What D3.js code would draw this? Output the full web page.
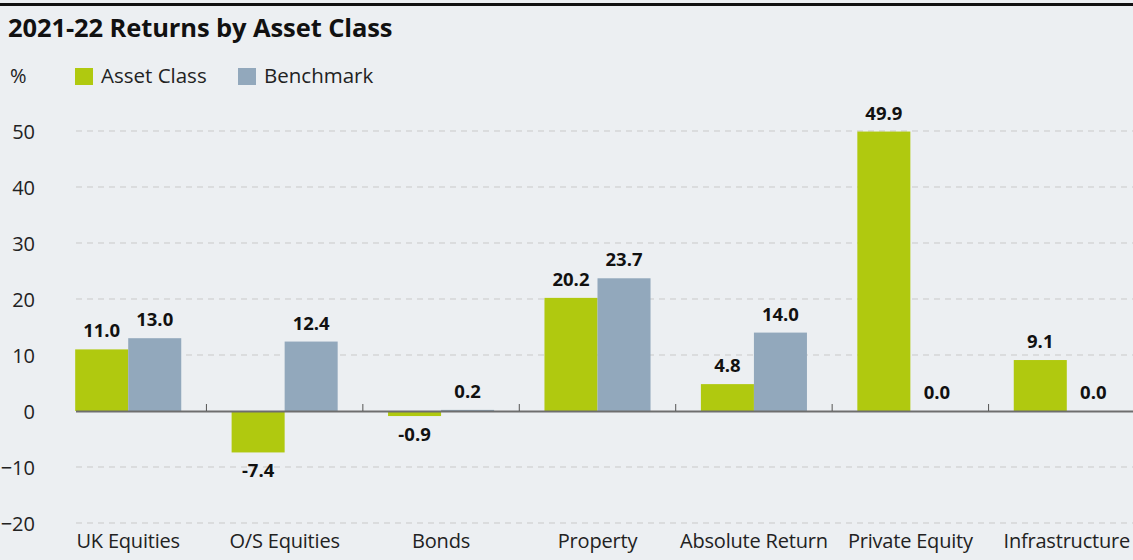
<!DOCTYPE html>
<html><head><meta charset="utf-8">
<script src="https://cdn.jsdelivr.net/npm/d3@7"></script>
<style>
html,body{margin:0;padding:0;background:#eceff2;}
svg{display:block;font-family:"Open Sans","Noto Sans",sans-serif;}
</style></head>
<body><svg id="c" width="1133" height="560"></svg>
<script>
const categories = ["UK Equities","O/S Equities","Bonds","Property","Absolute Return","Private Equity","Infrastructure"];
const assetClass = [11.0,-7.4,-0.9,20.2,4.8,49.9,9.1];
const benchmark = [13.0,12.4,0.2,23.7,14.0,0.0,0.0];
const seriesNames = ["Asset Class","Benchmark"];
const yTicks = [-20,-10,0,10,20,30,40,50];

const colors = ["#b0c90f","#92a8bc"];
const svg = d3.select("#c");
const W = 1133, H = 560;
svg.append("rect").attr("width",W).attr("height",H).attr("fill","#eceff2");
svg.append("rect").attr("x",0).attr("y",3).attr("width",W).attr("height",3).attr("fill","#111");

svg.append("text").attr("x",8).attr("y",37).attr("font-size",25.5).attr("font-weight",700)
  .attr("fill","#111").style("letter-spacing","-0.1px").text("2021-22 Returns by Asset Class");

// legend
svg.append("text").attr("x",10).attr("y",83).attr("font-size",20).attr("fill","#222").text("%");
const legX = [75,238];
seriesNames.forEach((n,i)=>{
  svg.append("rect").attr("x",legX[i]).attr("y",68).attr("width",18).attr("height",17).attr("fill",colors[i]);
  svg.append("text").attr("x",legX[i]+26).attr("y",83).attr("font-size",20.5).attr("fill","#222").text(n);
});

const y = d3.scaleLinear().domain([-20,50]).range([523,131]);
const x0 = d3.scaleBand().domain(categories).range([50,1145]).paddingInner(0).paddingOuter(0);
const x1 = d3.scaleBand().domain(seriesNames).range([0,x0.bandwidth()]).paddingInner(0).paddingOuter(0.475);

// gridlines
svg.append("g").selectAll("line").data(yTicks.filter(d=>d!==0)).join("line")
  .attr("x1",76).attr("x2",W).attr("y1",d=>y(d)).attr("y2",d=>y(d))
  .attr("stroke","#c9c9c9").attr("stroke-width",1).attr("stroke-dasharray","6,5");

// y axis labels
const yAxis = d3.axisLeft(y).tickValues(yTicks).tickSize(0).tickPadding(0);
const ga = svg.append("g").attr("transform","translate(35,0)").call(yAxis);
ga.select(".domain").remove();
ga.selectAll("text").attr("font-size",20).attr("fill","#222").attr("font-family","Open Sans, sans-serif").attr("dy","0.36em");

const data = categories.map((c,i)=>({cat:c, vals:[assetClass[i],benchmark[i]]}));
const g = svg.append("g");
data.forEach(d=>{
  d.vals.forEach((v,j)=>{
    const xx = x0(d.cat)+x1(seriesNames[j]);
    g.append("rect").attr("x",xx).attr("width",x1.bandwidth())
      .attr("y",y(Math.max(0,v))).attr("height",Math.abs(y(v)-y(0)))
      .attr("fill",colors[j]);
    const ty = v>=0 ? y(v)-12 : y(v)+25;
    g.append("text").attr("x",xx+x1.bandwidth()/2).attr("y",ty).attr("text-anchor","middle")
      .attr("font-size",18.5).attr("font-weight",700).attr("fill","#111").text(v.toFixed(1));
  });
});

// zero line
svg.append("line").attr("x1",76).attr("x2",W).attr("y1",y(0)+0.5).attr("y2",y(0)+0.5)
  .attr("stroke","#6e6e6e").attr("stroke-width",2);
// category ticks
svg.append("g").selectAll("line").data(categories.slice(1)).join("line")
  .attr("x1",d=>x0(d)).attr("x2",d=>x0(d)).attr("y1",y(0)-7).attr("y2",y(0))
  .attr("stroke","#555").attr("stroke-width",1);

// category labels
svg.append("g").selectAll("text").data(categories).join("text")
  .attr("x",d=>x0(d)+x0.bandwidth()/2).attr("y",548).attr("text-anchor","middle")
  .attr("font-size",20).attr("fill","#222").style("letter-spacing","-0.2px").text(d=>d);
</script></body></html>
